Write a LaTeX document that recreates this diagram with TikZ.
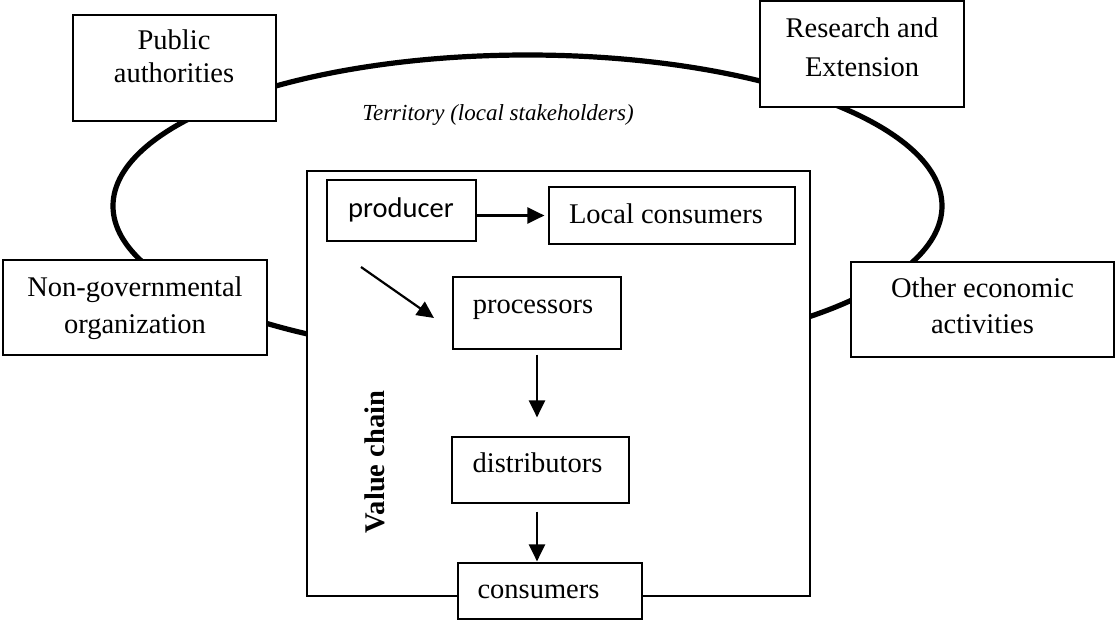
\documentclass[tikz,border=0pt]{standalone}
\usepackage{fontspec}
\setmainfont{Liberation Serif}
\newfontfamily\calibfont{Carlito}
\usetikzlibrary{arrows.meta,fit}
\begin{document}
\begin{tikzpicture}[x=0.5pt,y=-0.5pt,
  box/.style={draw, line width=0.6pt, fill=white, inner sep=0pt},
  txt/.style={anchor=base, inner sep=0pt, font=\fontsize{14.25pt}{17pt}\selectfont},
  arr/.style={line width=1.1pt, -{Triangle[length=8.5pt,width=8pt]}},
  ring/.style={line width=2.6pt}]
\useasboundingbox (0,0) rectangle (1115,621);
% territory ring
\coordinate (rc) at (527.5,206);
\draw[ring] (rc) ellipse [x radius=207.25pt, y radius=75.5pt];
% value chain frame
\node[box, fit={(307,171) (810,596)}] (vc) {};
% outer stakeholders
\node[box, fit={(73,15) (276,121)}] (pa) {};
\node[txt] (pa1) at (174,49) {Public};
\node[txt] (pa2) at (174,83) {authorities};
\node[box, fit={(760,1) (964,107)}] (re) {};
\node[txt] (re1) at (862,37) {Research and};
\node[txt] (re2) at (862,76) {Extension};
\node[box, fit={(3,260) (267,355)}] (ngo) {};
\node[txt] (ngo1) at (135,296) {Non-governmental};
\node[txt] (ngo2) at (135,333) {organization};
\node[box, fit={(851,262) (1114,357)}] (oea) {};
\node[txt] (oea1) at (982.5,297) {Other economic};
\node[txt] (oea2) at (982.5,333) {activities};
\node[anchor=base, inner sep=0pt, font=\fontsize{11.5pt}{14pt}\selectfont\itshape] (terr) at (498,120) {Territory (local stakeholders)};
% value chain content
\node[box, fit={(327,180) (476,241)}] (prod) {};
\node[txt, font=\fontsize{14.25pt}{17pt}\selectfont\calibfont] (prodt) at (401,217) {producer};
\node[box, fit={(549,187) (795,244)}] (lc) {};
\node[txt] (lct) at (666,223) {Local consumers};
\node[box, fit={(453,277) (621,349)}] (proc) {};
\node[txt] (proct) at (533,313) {processors};
\node[box, fit={(452,437) (629,503)}] (dist) {};
\node[txt] (distt) at (537.5,472) {distributors};
\node[box, fit={(458,563) (642,619)}] (cons) {};
\node[txt] (const) at (538.5,598) {consumers};
\node[rotate=90, inner sep=0pt, font=\fontsize{14.25pt}{17pt}\selectfont\bfseries] (vct) at (375,462) {Value chain};
% arrows
\draw[arr, shorten >=2pt] (prod.east |- lc.west) -- (lc.west);
\coordinate (d1) at (361,267);
\coordinate (d2) at (434,318);
\draw[arr] (d1) -- (d2);
\draw[arr, shorten <=2.5pt, shorten >=9.5pt] (proc.south) -- (proc.south |- dist.north);
\draw[arr, shorten <=4pt, shorten >=0.5pt] (proc.south |- dist.south) -- (proc.south |- cons.north);
\end{tikzpicture}
\end{document}
